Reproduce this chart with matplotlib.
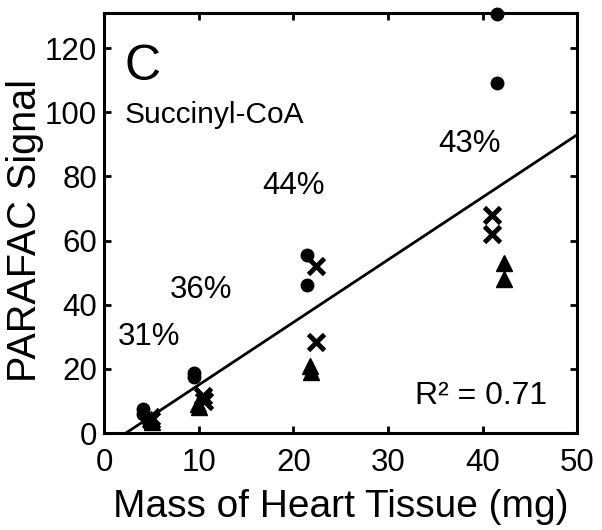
import numpy as np
import matplotlib
matplotlib.use("Agg")
import matplotlib.pyplot as plt

plt.rcParams['font.family'] = ['Liberation Sans', 'DejaVu Sans']

# replicate series
circle_x = [4.1, 4.1, 9.5, 9.5, 21.4, 21.4, 41.5, 41.5]
circle_y = [7.5, 6.0, 18.6, 17.4, 55.5, 46.0, 130.5, 109.0]
cross_x = [4.9, 5.0, 10.4, 10.6, 22.4, 22.4, 41.0, 41.0]
cross_y = [5.0, 4.0, 11.5, 10.0, 52.0, 28.5, 68.0, 62.0]
tri_x = [5.0, 5.1, 9.9, 10.0, 21.8, 21.9, 42.2, 42.3]
tri_y = [4.5, 3.5, 9.0, 8.0, 21.0, 19.0, 53.0, 48.0]

# fitted line: slope, intercept, x range
fit_slope = 1.95
fit_intercept = -4.5
fit_x = [2.3, 50]

pct_labels = ['31%', '36%', '44%', '43%']
pct_x = [4.7, 10.2, 20.0, 38.6]
pct_y = [30.0, 44.5, 77.0, 90.0]

fig = plt.figure(figsize=(6.02, 5.30), dpi=100)
ax = fig.add_axes([0.173, 0.183, 0.786, 0.793])

ax.plot(circle_x, circle_y, 'o', color='black', ms=9, clip_on=False, zorder=3)
ax.plot(cross_x, cross_y, 'x', color='black', ms=12, mew=3.5, zorder=3)
ax.plot(tri_x, tri_y, '^', color='black', ms=11.5, zorder=3)

xs = np.array(fit_x)
ax.plot(xs, fit_slope * xs + fit_intercept, color='black', lw=2, zorder=2)

for lab, x, y in zip(pct_labels, pct_x, pct_y):
    ax.text(x, y, lab, fontsize=22.5, ha='center', va='center')

ax.text(2.2, 114, 'C', fontsize=36, ha='left', va='center')
ax.text(2.2, 99, 'Succinyl-CoA', fontsize=21.5, ha='left', va='center')
ax.text(46.8, 11.5, 'R² = 0.71', fontsize=23, ha='right', va='center')

ax.set_xlim(0, 50)
ax.set_ylim(0, 131)
ax.set_xticks([0, 10, 20, 30, 40, 50])
ax.set_yticks([0, 20, 40, 60, 80, 100, 120])
ax.tick_params(direction='in', length=5, width=2, labelsize=22.5, top=True, right=True,
               labeltop=False, labelright=False)
ax.tick_params(axis='x', pad=10.5)
ax.tick_params(axis='y', pad=5)
for s in ax.spines.values():
    s.set_linewidth(2.2)

ax.set_xlabel('Mass of Heart Tissue (mg)', fontsize=28, labelpad=8)
ax.set_ylabel('PARAFAC Signal', fontsize=28.5, labelpad=1, y=0.483)

fig.savefig('out.png', dpi=100)
